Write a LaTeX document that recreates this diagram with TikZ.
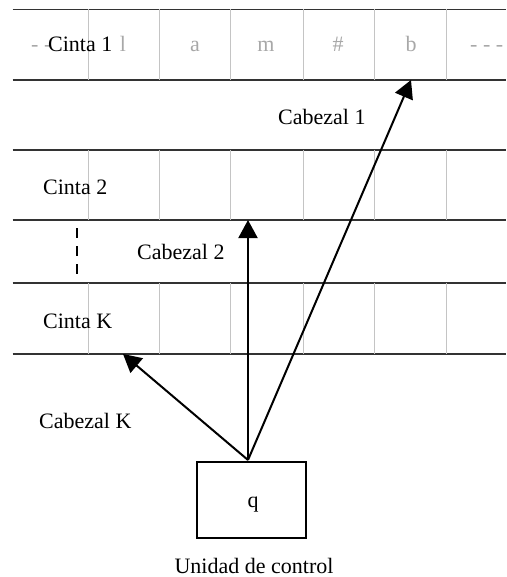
\documentclass[tikz,border=0pt]{standalone}
\usepackage{fontspec}
\setmainfont{Liberation Serif}
\usetikzlibrary{arrows.meta}
\definecolor{cellgray}{HTML}{C4C4C4}
\definecolor{symgray}{HTML}{A8A8A8}
\definecolor{rule}{HTML}{333333}
\begin{document}
\begin{tikzpicture}[x=1pt,y=-1pt,
  tapeline/.style={draw=rule,line width=1.4pt},
  cellline/.style={draw=cellgray,line width=1pt},
  lbl/.style={inner sep=0pt,anchor=base west,font=\fontsize{22}{26}\selectfont},
  sym/.style={inner sep=0pt,anchor=base,text=symgray,font=\fontsize{22}{26}\selectfont},
  head/.style={draw=black,line width=2pt,-{Triangle[length=18pt,width=19pt]}}]
\useasboundingbox (0,0) rectangle (506,577);

% horizontal rules of the three tapes
\foreach \y in {9.5,80,150,220,283,354}
  \draw[tapeline] (12.5,\y) -- (506,\y);

% cell separators of each tape
\foreach \top/\bot in {9.5/80,150/220,283/354}
  \foreach \x in {88,159,230,303,374,446}
    \draw[cellline] (\x,\top) -- (\x,\bot);

% contents of tape 1
\node[sym,anchor=base west] (dl) at (31,52) {- -};
\node[sym] (c1) at (123,52) {l};
\node[sym] (c2) at (195,52) {a};
\node[sym] (c3) at (266,52) {m};
\node[sym] (c4) at (338,52) {\#};
\node[sym] (c5) at (411,52) {b};
\node[sym,anchor=base west] (dr) at (470,52) {- - -};

% labels
\node[lbl] (cinta1) at (48,52) {Cinta 1};
\node[lbl] (cab1) at (278,125) {Cabezal 1};
\node[lbl] (cinta2) at (43,195) {Cinta 2};
\node[lbl] (cab2) at (137,259) {Cabezal 2};
\node[lbl] (cintak) at (43,328) {Cinta K};
\node[lbl] (cabk) at (39,428) {Cabezal K};

% vertical ellipsis between tape 2 and tape K
\draw[line width=2.6pt,dash pattern=on 10pt off 8pt] (77,228) -- (77,277);

% control unit
\node[draw=black,line width=1.4pt,minimum width=109pt,minimum height=76pt,inner sep=0pt,
      font=\fontsize{22}{26}\selectfont] (ctrl) at (251.5,500) {};
\node[inner sep=0pt,anchor=base,font=\fontsize{22}{26}\selectfont] (q) at (253,507) {q};
\node[inner sep=0pt,anchor=base,font=\fontsize{22}{26}\selectfont] (unit) at (254,573) {Unidad de control};

% read/write heads
\coordinate (origin) at (248,460);
\coordinate (h1) at (411,80);
\coordinate (h2) at (248,220);
\coordinate (hk) at (123,354);
\draw[head] (origin) -- (h1);
\draw[head] (origin) -- (h2);
\draw[head] (origin) -- (hk);
\end{tikzpicture}
\end{document}
